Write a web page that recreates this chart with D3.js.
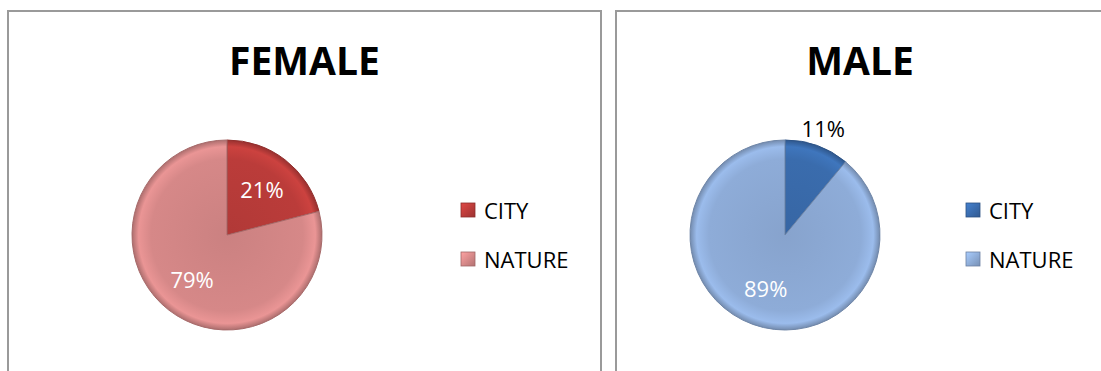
<!DOCTYPE html>
<html>
<head>
<meta charset="utf-8">
<script src="https://cdn.jsdelivr.net/npm/d3@7"></script>
<style>
  body { margin: 0; background: #fff; }
  svg { display: block; font-family: "Open Sans", sans-serif; }
</style>
</head>
<body>
<svg id="chart" width="1101" height="371"></svg>
<script>
// data
const categories = ['CITY', 'NATURE'];
const femaleValues = [21, 79];
const maleValues = [11, 89];
const panelTitles = ['FEMALE', 'MALE'];

// colours for each slice (dark, light)
const femaleColors = ['#bb3c3a', '#d68888'];
const maleColors = ['#3a6cad', '#8eacd8'];

const svg = d3.select('#chart');
const defs = svg.append('defs');

// panel layout
const panels = [
    { title: panelTitles[0], values: femaleValues, colors: femaleColors,
      x: 8, w: 593, titleX: 304.5, cx: 227, cy: 235, legendX: 461 },
    { title: panelTitles[1], values: maleValues, colors: maleColors,
      x: 616, w: 500, titleX: 860, cx: 785, cy: 235, legendX: 966 }
];
const radius = 95;

panels.forEach((p, pi) => {
    const panel = svg.append('g');

    // frame
    panel.append('rect')
        .attr('x', p.x)
        .attr('y', 11)
        .attr('width', p.w)
        .attr('height', 400)
        .attr('fill', '#fff')
        .attr('stroke', '#9a9a9a')
        .attr('stroke-width', 2);

    // title
    panel.append('text')
        .attr('x', p.titleX)
        .attr('y', 75)
        .attr('text-anchor', 'middle')
        .attr('font-size', 39)
        .attr('font-weight', 'bold')
        .attr('fill', '#000')
        .text(p.title);

    // gradients for slices and legend keys
    p.colors.forEach((col, i) => {
        const c = d3.color(col);
        const g = defs.append('radialGradient')
            .attr('id', `grad-${pi}-${i}`)
            .attr('gradientUnits', 'userSpaceOnUse')
            .attr('cx', 0).attr('cy', 0).attr('r', radius);
        g.append('stop').attr('offset', '0%').attr('stop-color', c.darker(0.15));
        g.append('stop').attr('offset', '80%').attr('stop-color', c);
        g.append('stop').attr('offset', '93%').attr('stop-color', c.brighter(0.25));
        g.append('stop').attr('offset', '100%').attr('stop-color', c.darker(0.6));

        const lg = defs.append('linearGradient')
            .attr('id', `leg-${pi}-${i}`)
            .attr('x1', 0).attr('y1', 0).attr('x2', 1).attr('y2', 1);
        lg.append('stop').attr('offset', '0%').attr('stop-color', c.brighter(0.5));
        lg.append('stop').attr('offset', '100%').attr('stop-color', c.darker(0.5));
    });

    const pie = d3.pie().sort(null).value(d => d);
    const arcs = pie(p.values);
    const arc = d3.arc().innerRadius(0).outerRadius(radius);
    const labelArc = d3.arc().innerRadius(radius * 0.6).outerRadius(radius * 0.6);
    const outerArc = d3.arc().innerRadius(radius * 1.19).outerRadius(radius * 1.19);

    const g = panel.append('g').attr('transform', `translate(${p.cx},${p.cy})`);

    g.selectAll('path.slice')
        .data(arcs)
        .enter().append('path')
        .attr('class', 'slice')
        .attr('d', arc)
        .attr('fill', (d, i) => `url(#grad-${pi}-${i})`)
        .attr('stroke', (d, i) => d3.color(p.colors[i]).darker(0.7))
        .attr('stroke-width', 1);

    // percent labels: small slices go outside in black
    g.selectAll('text.pct')
        .data(arcs)
        .enter().append('text')
        .attr('class', 'pct')
        .attr('text-anchor', 'middle')
        .attr('font-size', 22)
        .attr('fill', d => d.value < 15 ? '#000' : '#fff')
        .attr('transform', d => {
            const c = d.value < 15 ? outerArc.centroid(d) : labelArc.centroid(d);
            return `translate(${c[0]},${c[1] + 8})`;
        })
        .text(d => d.value + '%');

    // legend
    const legend = panel.selectAll('g.legend')
        .data(categories)
        .enter().append('g')
        .attr('class', 'legend')
        .attr('transform', (d, i) => `translate(${p.legendX},${203 + i * 49})`);

    legend.append('rect')
        .attr('width', 14)
        .attr('height', 14)
        .attr('fill', (d, i) => `url(#leg-${pi}-${i})`)
        .attr('stroke', (d, i) => d3.color(p.colors[i]).darker(0.8))
        .attr('stroke-width', 0.8);

    legend.append('text')
        .attr('x', 23)
        .attr('y', 16)
        .attr('font-size', 22)
        .attr('fill', '#000')
        .text(d => d);
});
</script>
</body>
</html>
